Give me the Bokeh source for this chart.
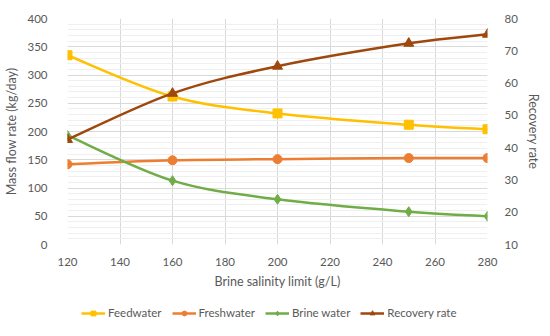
import numpy as np
from bokeh.plotting import figure
from bokeh.layouts import column
from bokeh.models import Range1d, LinearAxis, Legend, LegendItem, FixedTicker, ColumnDataSource
from bokeh.embed import file_html
from bokeh.resources import INLINE

# ---- data ----
salinity = [120, 160, 200, 250, 280]
feedwater = [335, 262, 232, 212, 204]
freshwater = [142, 149, 151, 153, 153]
brine_water = [193, 113, 80, 58, 50]
recovery_rate = [42.5, 56.8, 65.2, 72.3, 75.1]

x_ticks = list(range(120, 281, 20))
left_ticks = list(range(0, 401, 50))
left_minor = list(range(0, 401, 10))
right_ticks = list(range(10, 81, 10))

FONT = "Lato"
GRAY = "#595959"

p = figure(width=550, height=296, output_backend="svg", toolbar_location=None,
           x_range=Range1d(120, 280), y_range=Range1d(0, 400),
           min_border_left=67, min_border_right=63, min_border_top=18,
           min_border_bottom=52)
p.extra_y_ranges = {"rec": Range1d(10, 80)}
p.outline_line_color = None

# grids
p.xgrid.ticker = FixedTicker(ticks=x_ticks)
p.xgrid.grid_line_color = "#D9D9D9"
p.ygrid.ticker = FixedTicker(ticks=left_ticks, minor_ticks=left_minor)
p.ygrid.grid_line_color = "#D9D9D9"
p.ygrid.minor_grid_line_color = "#EFEFEF"


def style_axis(ax):
    ax.axis_line_color = None
    ax.major_tick_line_color = None
    ax.minor_tick_line_color = None
    ax.major_label_text_font = FONT
    ax.major_label_text_font_size = "11.5px"
    ax.major_label_text_color = GRAY
    ax.axis_label_text_font = FONT
    ax.axis_label_text_font_size = "12.5px"
    ax.axis_label_text_font_style = "normal"
    ax.axis_label_text_color = GRAY


p.xaxis.ticker = FixedTicker(ticks=x_ticks)
p.xaxis.axis_label = "Brine salinity limit (g/L)"
p.yaxis.ticker = FixedTicker(ticks=left_ticks)
p.yaxis.axis_label = "Mass flow rate (kg/day)"
style_axis(p.xaxis[0])
style_axis(p.yaxis[0])
p.xaxis.major_label_standoff = 7
p.yaxis.major_label_standoff = 14

rax = LinearAxis(y_range_name="rec", ticker=FixedTicker(ticks=right_ticks),
                 axis_label="Recovery rate")
style_axis(rax)
rax.major_label_standoff = 11
p.add_layout(rax, "right")


def bezier_ctrl(xs, ys):
    xs = np.asarray(xs, float)
    ys = np.asarray(ys, float)
    n = len(xs)
    x0, y0, x1, y1, cx0, cy0, cx1, cy1 = ([] for _ in range(8))
    for i in range(n - 1):
        im = max(i - 1, 0)
        ip2 = min(i + 2, n - 1)
        x0.append(xs[i]); y0.append(ys[i])
        x1.append(xs[i + 1]); y1.append(ys[i + 1])
        cx0.append(xs[i] + (xs[i + 1] - xs[im]) / 6)
        cy0.append(ys[i] + (ys[i + 1] - ys[im]) / 6)
        cx1.append(xs[i + 1] - (xs[ip2] - xs[i]) / 6)
        cy1.append(ys[i + 1] - (ys[ip2] - ys[i]) / 6)
    return ColumnDataSource(dict(x0=x0, y0=y0, x1=x1, y1=y1,
                                 cx0=cx0, cy0=cy0, cx1=cx1, cy1=cy1))


series = [
    ("Feedwater", feedwater, "#FFC000", "square", 9, "default"),
    ("Freshwater", freshwater, "#ED7D31", "circle", 9, "default"),
    ("Brine water", brine_water, "#70AD47", "diamond", 10, "default"),
    ("Recovery rate", recovery_rate, "#9E480E", "triangle", 10, "rec"),
]

# legend figure (below the chart); its ranges keep the sample data off-view
lg = figure(width=550, height=40, output_backend="svg", toolbar_location=None,
            x_range=Range1d(0, 1), y_range=Range1d(0, 1),
            x_axis_type=None, y_axis_type=None,
            min_border_left=0, min_border_right=0, min_border_top=0,
            min_border_bottom=0)
lg.outline_line_color = None
lg.xgrid.visible = False
lg.ygrid.visible = False

items = []
for name, ys, color, marker, size, rng in series:
    src = bezier_ctrl(salinity, ys)
    p.bezier(x0="x0", y0="y0", x1="x1", y1="y1", cx0="cx0", cy0="cy0",
             cx1="cx1", cy1="cy1", source=src, line_color=color,
             line_width=2.5, y_range_name=rng)
    p.scatter(x=salinity, y=ys, marker=marker, size=size, fill_color=color,
              line_color=color, y_range_name=rng)
    lr = lg.line(x=salinity, y=ys, line_color=color, line_width=2.5)
    sr = lg.scatter(x=salinity, y=ys, marker=marker, size=size - 1,
                    fill_color=color, line_color=color)
    items.append(LegendItem(label=name, renderers=[lr, sr]))

legend = Legend(items=items, orientation="horizontal", location=(14, 17),
                border_line_color=None, background_fill_alpha=0,
                label_text_font=FONT, label_text_font_size="11.5px",
                label_text_color=GRAY, glyph_width=24, glyph_height=12,
                label_standoff=3, spacing=10, padding=2, margin=0)
lg.add_layout(legend)

layout = column(p, lg, spacing=0)
open("out.html", "w").write(file_html(layout, INLINE))
